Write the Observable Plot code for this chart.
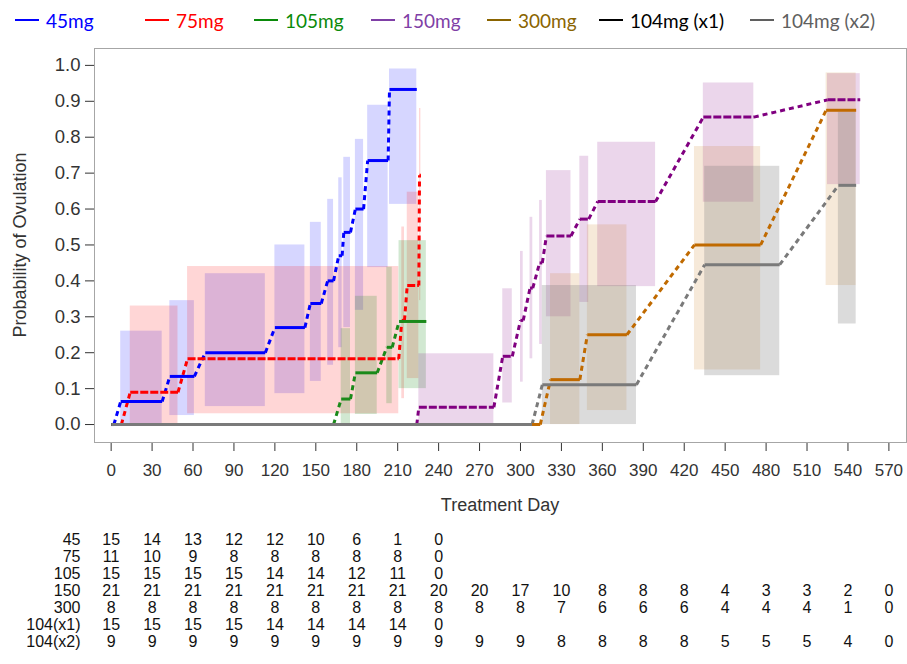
<!DOCTYPE html>
<html><head><meta charset="utf-8">
<script src="https://cdn.jsdelivr.net/npm/d3@7"></script>
<script src="https://cdn.jsdelivr.net/npm/@observablehq/plot@0.6"></script>
<style>
body{margin:0;background:#fff;font-family:"Liberation Sans",Arial,sans-serif;}
#wrap{position:relative;width:907px;height:664px;overflow:hidden;background:#fff;}
#wrap > *{position:absolute;}
.leg{top:8px;height:24px;display:flex;align-items:center;font-family:Lato,"Liberation Sans",sans-serif;font-size:19px;white-space:nowrap;}
.leg span.sw{display:inline-block;width:24px;height:2px;margin-right:7px;}
#ylab{left:20px;top:245px;transform:translate(-50%,-50%) rotate(-90deg);font-size:18px;color:#333;white-space:nowrap;}
#xlab{left:500px;top:505px;transform:translate(-50%,-50%);font-size:18px;color:#333;white-space:nowrap;}
</style></head>
<body><div id="wrap"></div>
<script>
// ---- tick labels ----
const xTicks = [0,30,60,90,120,150,180,210,240,270,300,330,360,390,420,450,480,510,540,570];
const yTicks = [0,0.1,0.2,0.3,0.4,0.5,0.6,0.7,0.8,0.9,1.0];

// ---- series: plateau start/end day, estimate, CI low/high ----
const from45 = [0, 7, 43, 69, 120, 146, 158.7, 166.8, 170.5, 179, 188, 204];
const to45   = [2, 37.4, 61, 113, 142, 154, 163, 169.3, 175.4, 185, 203, 224];
const p45    = [0, 0.064, 0.134, 0.20, 0.27, 0.337, 0.40, 0.47, 0.535, 0.60, 0.735, 0.933];
const lo45   = [0, 0, 0.025, 0.05, 0.086, 0.12, 0.165, 0.214, 0.27, 0.318, 0.437, 0.613];
const hi45   = [0, 0.26, 0.345, 0.42, 0.50, 0.563, 0.627, 0.687, 0.744, 0.794, 0.889, 0.99];

const from75 = [0, 14, 56, 213, 217, 226];
const to75   = [7.5, 49, 210.8, 215, 225.5, 227];
const p75    = [0, 0.09, 0.183, 0.29, 0.387, 0.694];
const lo75   = [0, 0, 0.03, 0.072, 0.128, 0.345];
const hi75   = [0, 0.33, 0.44, 0.55, 0.647, 0.88];

const from105 = [0, 168.6, 179, 202, 211];
const to105   = [163, 175.4, 195, 206, 231];
const p105    = [0, 0.071, 0.144, 0.215, 0.287];
const lo105   = [0, 0, 0.028, 0.058, 0.10];
const hi105   = [0, 0.267, 0.357, 0.438, 0.512];

const from150 = [0, 225.5, 287, 300, 307, 314, 319, 343.5, 356.6, 434, 525];
const to150   = [224, 280.5, 294, 302, 309, 316, 337, 350, 399, 471, 549];
const p150    = [0, 0.048, 0.19, 0.29, 0.38, 0.45, 0.525, 0.572, 0.621, 0.856, 0.904];
const lo150   = [0, 0, 0.06, 0.118, 0.183, 0.223, 0.30, 0.34, 0.384, 0.619, 0.668];
const hi150   = [0, 0.197, 0.378, 0.482, 0.577, 0.624, 0.707, 0.747, 0.786, 0.951, 0.977];

const from300 = [0, 322, 349, 427.5, 524];
const to300   = [314.5, 343.5, 378, 476, 546];
const p300    = [0, 0.125, 0.25, 0.50, 0.875];
const lo300   = [0, 0, 0.039, 0.152, 0.387];
const hi300   = [0, 0.42, 0.556, 0.774, 0.979];

const from104x1 = [0];
const to104x1   = [226];
const p104x1    = [0];
const lo104x1   = [0];
const hi104x1   = [0];

const from104x2 = [0, 316, 435, 533];
const to104x2   = [308.5, 385, 490, 546];
const p104x2    = [0, 0.111, 0.445, 0.666];
const lo104x2   = [0, 0, 0.136, 0.28];
const hi104x2   = [0, 0.387, 0.719, 0.87];

// ---- number at risk ----
const riskDays = [0,30,60,90,120,150,180,210,240,270,300,330,360,390,420,450,480,510,540,570];
const riskRows = ["45","75","105","150","300","104(x1)","104(x2)"];
const risk45   = [15,14,13,12,12,10,6,1,0];
const risk75   = [11,10,9,8,8,8,8,8,0];
const risk105  = [15,15,15,15,14,14,12,11,0];
const risk150  = [21,21,21,21,21,21,21,21,20,20,17,10,8,8,8,4,3,3,2,0];
const risk300  = [8,8,8,8,8,8,8,8,8,8,8,7,6,6,6,4,4,4,1,0];
const risk104x1= [15,15,15,15,14,14,14,14,0];
const risk104x2= [9,9,9,9,9,9,9,9,9,9,9,8,8,8,8,5,5,5,4,0];

// ---- legend ----
const legendNames = ["45mg","75mg","105mg","150mg","300mg","104mg (x1)","104mg (x2)"];
const legendColors = ["#0000ff","#ff0000","#0a8a0a","#7f3fa6","#8a6400","#000000","#5f5f5f"];
const legendLeft = [15,145,254,371,487,599,750];

// ---- build ----
const series = [
  {from:from45,to:to45,p:p45,lo:lo45,hi:hi45,color:"#0000ff",op:0.16,plate:null},
  {from:from75,to:to75,p:p75,lo:lo75,hi:hi75,color:"#ff0000",op:0.16,plate:"8,2"},
  {from:from105,to:to105,p:p105,lo:lo105,hi:hi105,color:"#1a8a1a",op:0.2,plate:null},
  {from:from150,to:to150,p:p150,lo:lo150,hi:hi150,color:"#800080",op:0.16,plate:"8,2"},
  {from:from300,to:to300,p:p300,lo:lo300,hi:hi300,color:"#c06a00",op:0.15,plate:null},
  {from:from104x1,to:to104x1,p:p104x1,lo:lo104x1,hi:hi104x1,color:"#000000",op:0.2,plate:null},
  {from:from104x2,to:to104x2,p:p104x2,lo:lo104x2,hi:hi104x2,color:"#7a7a7a",op:0.27,plate:null}
];
const boxMarks = [], connMarks = [], plateMarks = [];
for (const s of series) {
  const steps = s.p.map((v,i)=>({from:s.from[i],to:s.to[i],p:v,lo:s.lo[i],hi:s.hi[i]}));
  const boxes = steps.filter(d=>d.hi>d.lo);
  const conns = steps.slice(1).map((d,i)=>({x1:steps[i].to,y1:steps[i].p,x2:d.from,y2:d.p}));
  boxMarks.push(Plot.rect(boxes,{x1:"from",x2:"to",y1:"lo",y2:"hi",fill:s.color,fillOpacity:s.op}));
  connMarks.push(Plot.link(conns,{x1:"x1",y1:"y1",x2:"x2",y2:"y2",stroke:s.color,strokeWidth:3,strokeDasharray:"5,4",strokeLinecap:"butt"}));
  plateMarks.push(Plot.link(steps,{x1:"from",x2:"to",y1:"p",y2:"p",stroke:s.color,strokeWidth:3,strokeLinecap:"butt",...(s.plate?{strokeDasharray:s.plate}:{})}));
}

const xDomain = [-12.2, 582.9];
const main = Plot.plot({
  width: 907, height: 480,
  marginLeft: 94, marginRight: 1, marginTop: 8, marginBottom: 78,
  style: {fontFamily: '"Liberation Sans",Arial,sans-serif', fontSize: "17px", color: "#333", background: "transparent"},
  x: {domain: xDomain, ticks: xTicks, tickSize: 9, tickPadding: 12, label: null},
  y: {domain: [-0.05, 1.047], ticks: yTicks, tickFormat: ".1f", tickSize: 9, tickPadding: 5, label: null},
  marks: [
    ...boxMarks,
    ...connMarks,
    ...plateMarks,
    Plot.frame({stroke: "#a6a6a6"})
  ]
});
main.style.left = "0px"; main.style.top = "40px";
d3.select(main).selectAll('[aria-label^="y-axis"] text').style("font-size", "18.5px");

const cells = [];
const riskSets = [risk45, risk75, risk105, risk150, risk300, risk104x1, risk104x2];
riskSets.forEach((arr, r) => arr.forEach((n, i) => cells.push({row: riskRows[r], day: riskDays[i], n})));
const table = Plot.plot({
  width: 907, height: 149,
  marginLeft: 94, marginRight: 1, marginTop: 0, marginBottom: 0,
  style: {fontFamily: '"Liberation Sans",Arial,sans-serif', fontSize: "16px", color: "#111", background: "transparent"},
  x: {domain: xDomain, axis: null},
  y: {type: "point", domain: riskRows, range: [13, 137], tickSize: 0, tickPadding: 14, label: null},
  marks: [
    Plot.text(cells, {x: "day", y: "row", text: "n", fill: "#111"})
  ]
});
table.style.left = "0px"; table.style.top = "515px";

const wrap = document.getElementById("wrap");
wrap.appendChild(main);
wrap.appendChild(table);

legendNames.forEach((name, i) => {
  const d = document.createElement("div");
  d.className = "leg";
  d.style.left = legendLeft[i] + "px";
  d.style.color = legendColors[i];
  d.innerHTML = `<span class="sw" style="background:${legendColors[i]}"></span>`;
  d.appendChild(document.createTextNode(name));
  wrap.appendChild(d);
});
const yl = document.createElement("div"); yl.id = "ylab"; yl.textContent = "Probability of Ovulation"; wrap.appendChild(yl);
const xl = document.createElement("div"); xl.id = "xlab"; xl.textContent = "Treatment Day"; wrap.appendChild(xl);
</script></body></html>
